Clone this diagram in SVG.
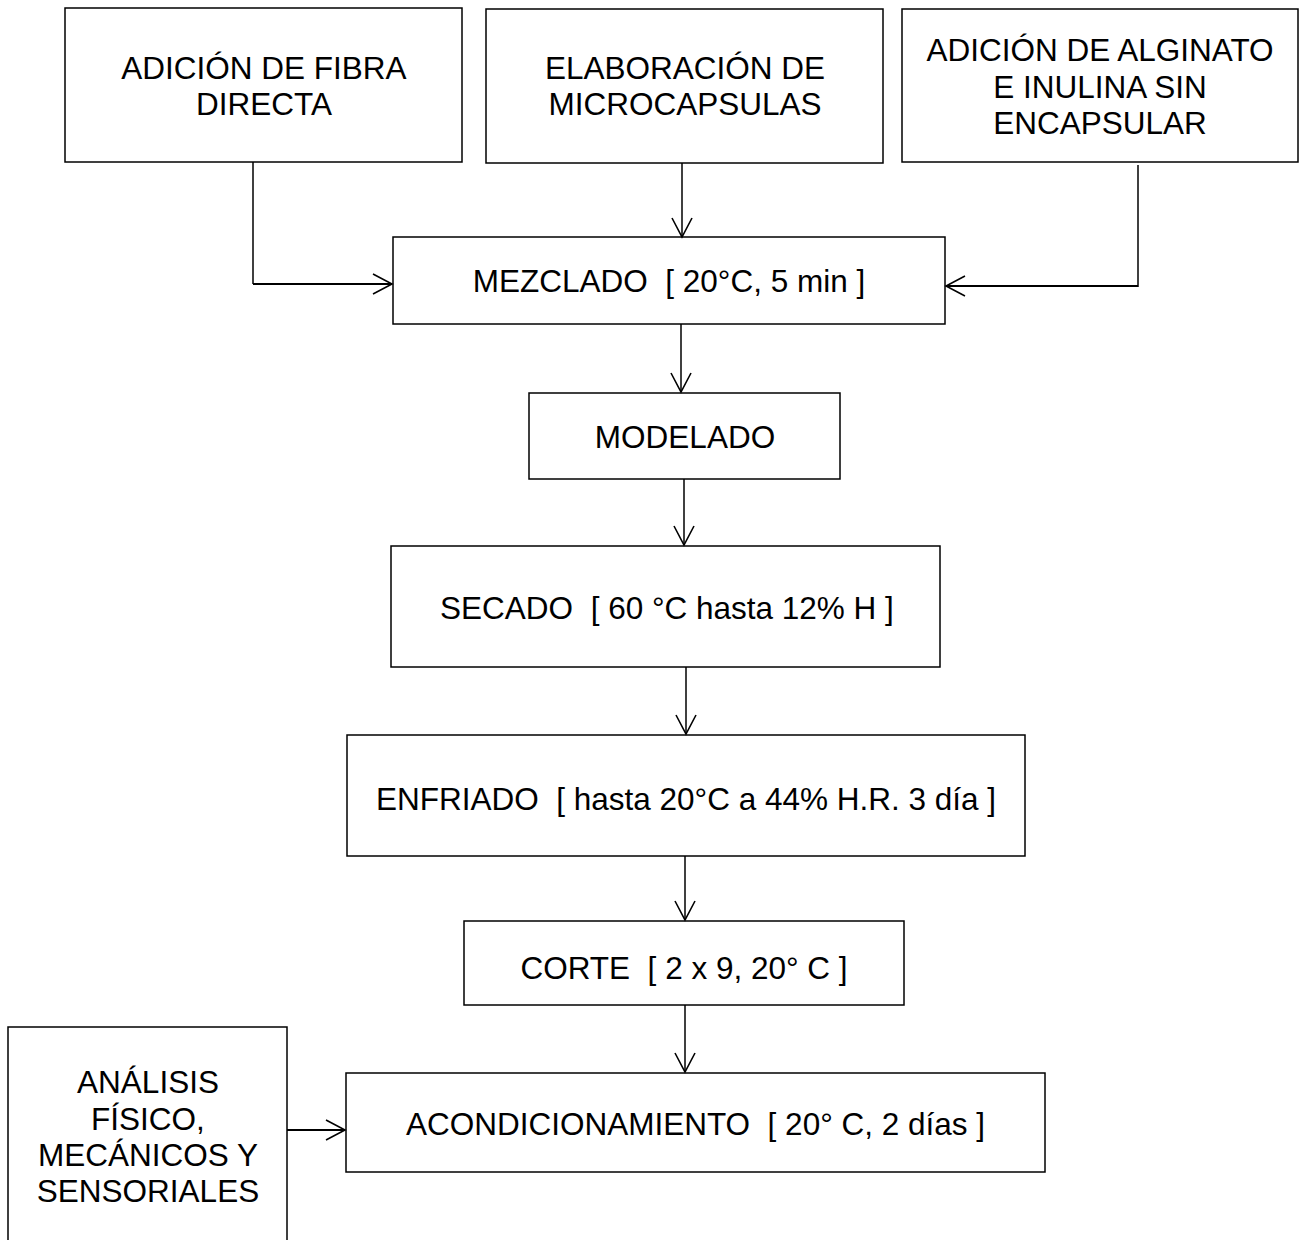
<svg xmlns="http://www.w3.org/2000/svg" width="1300" height="1240" viewBox="0 0 1300 1240">
<style>
.box{fill:#fff;stroke:#000;stroke-width:1.5}
.t{font-family:"Liberation Sans",Arial,sans-serif;font-size:31.5px;fill:#000;text-anchor:middle;white-space:pre}
.c{fill:none;stroke:#000;stroke-width:1.5}
.c2{fill:none;stroke:#000;stroke-width:2.2}
</style>
<defs>
<marker id="ah" viewBox="0 0 22 22" refX="20" refY="11" markerWidth="22" markerHeight="22" markerUnits="userSpaceOnUse" orient="auto">
<path d="M1,1 L20,11 L1,21" fill="none" stroke="#000" stroke-width="1.6"/>
</marker>
</defs>
<rect width="1300" height="1240" fill="#fff"/>
<g id="n1"><rect class="box" x="65" y="8" width="397" height="154"/><text class="t" x="264" y="79">ADICIÓN DE FIBRA</text><text class="t" x="264" y="115">DIRECTA</text></g>
<g id="n2"><rect class="box" x="486" y="9" width="397" height="154"/><text class="t" x="685" y="79">ELABORACIÓN DE</text><text class="t" x="685" y="115">MICROCAPSULAS</text></g>
<g id="n3"><rect class="box" x="902" y="9" width="396" height="153"/><text class="t" x="1100" y="61">ADICIÓN DE ALGINATO</text><text class="t" x="1100" y="98">E INULINA SIN</text><text class="t" x="1100" y="134">ENCAPSULAR</text></g>
<g id="n4"><rect class="box" x="393" y="237" width="552" height="87"/><text class="t" x="669" y="292">MEZCLADO  [ 20°C, 5 min ]</text></g>
<g id="n5"><rect class="box" x="529" y="393" width="311" height="86"/><text class="t" x="685" y="448">MODELADO</text></g>
<g id="n6"><rect class="box" x="391" y="546" width="549" height="121"/><text class="t" x="667" y="619">SECADO  [ 60 °C hasta 12% H ]</text></g>
<g id="n7"><rect class="box" x="347" y="735" width="678" height="121"/><text class="t" x="686" y="810">ENFRIADO  [ hasta 20°C a 44% H.R. 3 día ]</text></g>
<g id="n8"><rect class="box" x="464" y="921" width="440" height="84"/><text class="t" x="684" y="979">CORTE  [ 2 x 9, 20° C ]</text></g>
<g id="n9"><rect class="box" x="346" y="1073" width="699" height="99"/><text class="t" x="695.5" y="1135">ACONDICIONAMIENTO  [ 20° C, 2 días ]</text></g>
<g id="n10"><rect class="box" x="8" y="1027" width="279" height="230"/><text class="t" x="148" y="1093">ANÁLISIS</text><text class="t" x="148" y="1130">FÍSICO,</text><text class="t" x="148" y="1166">MECÁNICOS Y</text><text class="t" x="148" y="1202">SENSORIALES</text></g>
<g id="connectors">
<path class="c" d="M253,162 V284"/>
<path class="c2" d="M253,284 H392" marker-end="url(#ah)"/>
<path class="c" d="M682,163 V237" marker-end="url(#ah)"/>
<path class="c" d="M1138,165 V287"/>
<path class="c2" d="M1138,286 H946" marker-end="url(#ah)"/>
<path class="c" d="M681,324 V392" marker-end="url(#ah)"/>
<path class="c" d="M684,479 V545" marker-end="url(#ah)"/>
<path class="c" d="M686,667 V734" marker-end="url(#ah)"/>
<path class="c" d="M685,856 V920" marker-end="url(#ah)"/>
<path class="c" d="M685,1005 V1072" marker-end="url(#ah)"/>
<path class="c2" d="M287,1130 H345" marker-end="url(#ah)"/>
</g>
</svg>
